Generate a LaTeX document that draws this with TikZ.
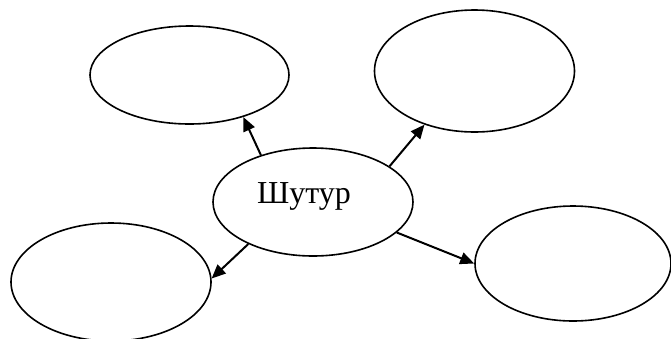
\documentclass[tikz,border=0pt]{standalone}
\usepackage{fontspec}
\setmainfont{Liberation Serif}
\usetikzlibrary{shapes.geometric,arrows.meta}
\begin{document}
\begin{tikzpicture}[x=1pt,y=-1pt,
  bub/.style={draw,ellipse,line width=1.6pt,inner sep=0pt},
  arr/.style={line width=2pt,-{Triangle[length=14pt,width=12pt]}}]
\useasboundingbox (0,0) rectangle (671,338);
\node[bub,minimum width=200pt,minimum height=108pt,text height=21pt,text depth=18pt,font=\fontsize{32}{36}\selectfont] (c) at (313,202) {\hspace*{-18pt}Шутур};
\node[bub,minimum width=199pt,minimum height=98pt] (tl) at (189.5,75) {};
\node[bub,minimum width=200pt,minimum height=122pt] (tr) at (474.5,71) {};
\node[bub,minimum width=200pt,minimum height=118pt] (bl) at (111,282) {};
\node[bub,minimum width=196pt,minimum height=115pt] (br) at (573,263.5) {};
\draw[arr] (c.138.6) -- (tl.322);
\draw[arr] (c.25.6) -- (tr.227.5);
\draw[arr] (c.213.5) -- (bl.2);
\draw[arr] (c.340) -- (br.180);
\end{tikzpicture}
\end{document}
